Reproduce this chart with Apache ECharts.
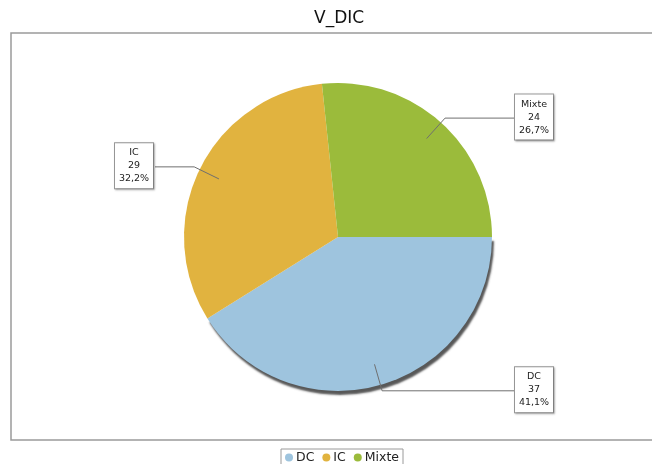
<!DOCTYPE html>
<html>
<head>
<meta charset="utf-8">
<script src="https://cdn.jsdelivr.net/npm/echarts@6/dist/echarts.min.js"></script>
<style>
  html, body { margin: 0; padding: 0; background: #fff; }
  #chart { width: 652px; height: 464px; }
</style>
</head>
<body>
<div id="chart"></div>
<script>
// V_DIC breakdown
const categories = ['DC', 'IC', 'Mixte'];
const counts = [37, 29, 24];
const colors = ['#9ec4de', '#e1b33f', '#9bbb3b'];

const CX = 338, CY = 237, R = 154;

const chart = echarts.init(document.getElementById('chart'), null, { renderer: 'canvas' });

const fmtPct = p => p.toFixed(1).replace('.', ',') + '%';

// shared geometry of the pie (filled slices and the label layer use the same layout)
const pieBase = {
  type: 'pie',
  center: [CX, CY],
  radius: R,
  startAngle: 0,
  clockwise: true,
  avoidLabelOverlap: false,
  emphasis: { disabled: true }
};

chart.setOption({
  animation: false,
  backgroundColor: '#fff',
  title: {
    text: 'V_DIC',
    left: 309,
    top: 5,
    textStyle: { fontFamily: 'DejaVu Sans', fontSize: 17, fontWeight: 'normal', color: '#111' }
  },
  graphic: [{
    type: 'rect',
    silent: true,
    shape: { x: 11, y: 33, width: 660, height: 407 },
    style: { fill: null, stroke: '#9a9a9a', lineWidth: 1.5 },
    z: -1
  }],
  legend: {
    data: categories,
    top: 449,
    left: 281,
    icon: 'circle',
    itemWidth: 8,
    itemHeight: 8,
    itemGap: 8,
    padding: [2, 4, 4, 4],
    borderColor: '#9a9a9a',
    borderWidth: 1,
    backgroundColor: '#fff',
    textStyle: { fontFamily: 'DejaVu Sans', fontSize: 12.5, color: '#222', padding: [0, 0, 0, -2] }
  },
  series: [
    Object.assign({}, pieBase, {
      name: 'V_DIC',
      z: 2,
      data: categories.map((name, i) => ({
        name,
        value: counts[i],
        itemStyle: Object.assign(
          { color: colors[i] },
          i === 0 ? { shadowColor: 'rgba(70,70,70,0.9)', shadowBlur: 2, shadowOffsetX: 2, shadowOffsetY: 4 } : {}
        )
      })),
      itemStyle: { borderWidth: 0 },
      label: { show: false },
      labelLine: { show: false }
    }),
    // label layer on top so the leader lines run over the slices
    Object.assign({}, pieBase, {
      name: 'labels',
      z: 3,
      silent: true,
      data: categories.map((name, i) => ({ name, value: counts[i] })),
      itemStyle: { color: 'rgba(0,0,0,0)', borderWidth: 0 },
      label: {
        position: 'outside',
        formatter: p => '{t|' + p.name + '}\n{t|' + p.value + '}\n{t|' + fmtPct(p.percent) + '}',
        backgroundColor: '#fff',
        borderColor: '#999',
        borderWidth: 1,
        padding: [3, 3],
        shadowColor: 'rgba(0,0,0,0.25)',
        shadowBlur: 2,
        shadowOffsetX: 1,
        shadowOffsetY: 1,
        distanceToLabelLine: 0,
        rich: {
          t: { width: 32, align: 'center', fontFamily: 'DejaVu Sans', fontSize: 9.5, lineHeight: 13, color: '#222' }
        }
      },
      labelLine: {
        show: true,
        length: 6,
        length2: 20,
        lineStyle: { color: '#6f6f6f', width: 1 }
      },
      labelLayout: function (params) {
        const pts = params.labelLinePoints;
        if (!pts) return {};
        const isLeft = pts[2][0] < CX;
        const endX = isLeft ? CX - 183 : CX + 177;
        const inner = [CX + (pts[0][0] - CX) * 0.86, CY + (pts[0][1] - CY) * 0.86];
        const newPts = [inner, [pts[1][0], pts[1][1]], [endX, pts[1][1]]];
        const w = params.labelRect.width;
        const h = params.labelRect.height;
        return {
          x: isLeft ? endX - w : endX,
          y: pts[1][1] - h / 2,
          align: 'left',
          verticalAlign: 'top',
          labelLinePoints: newPts
        };
      }
    })
  ]
});
</script>
</body>
</html>
